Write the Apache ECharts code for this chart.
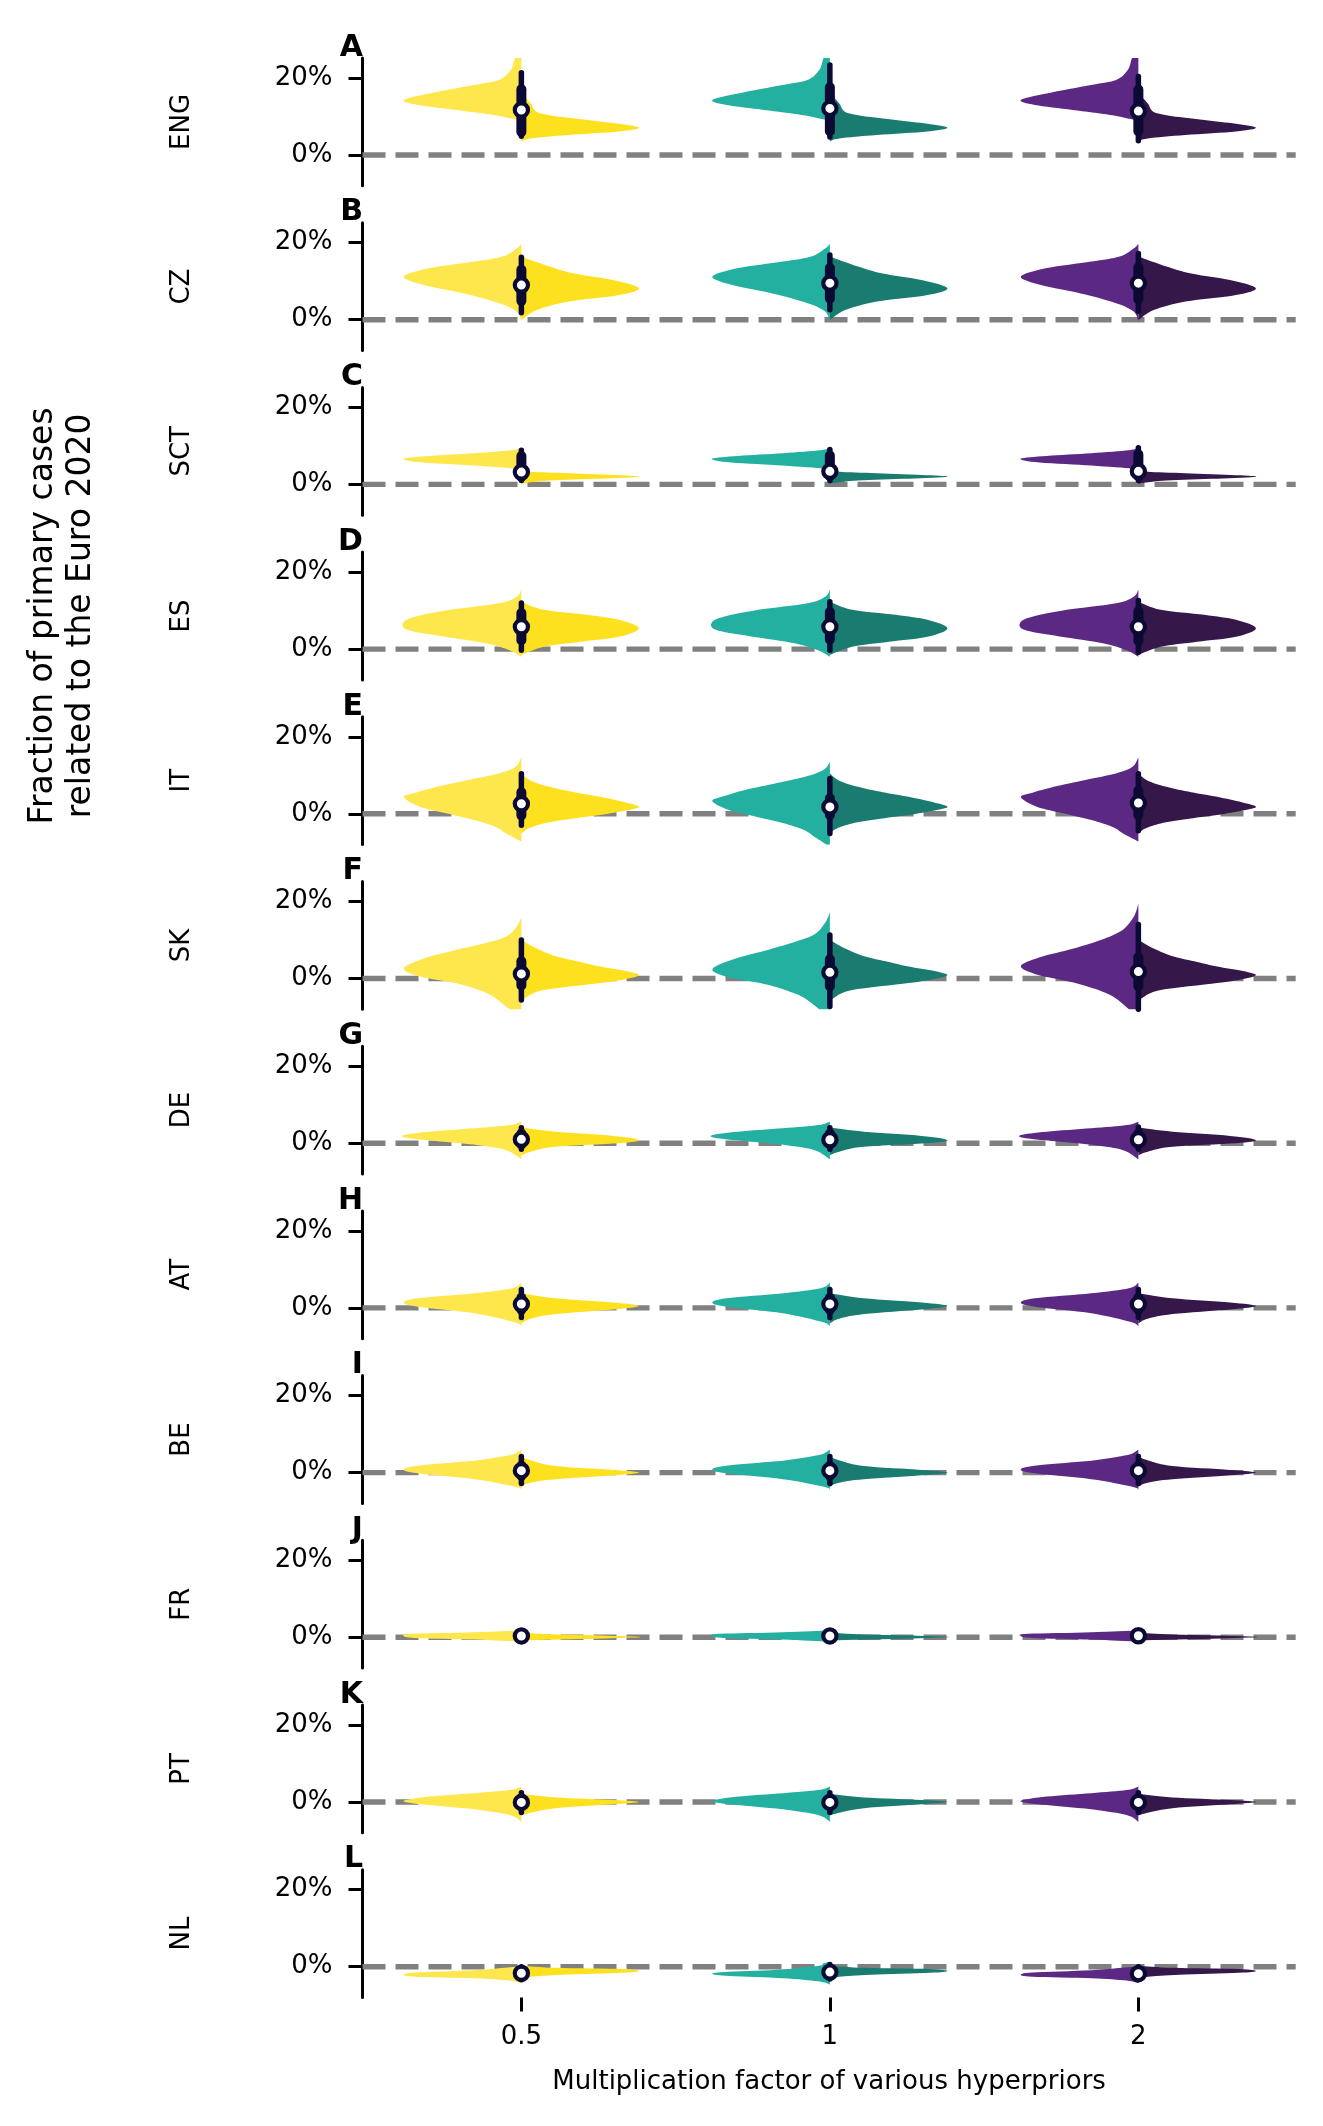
<!DOCTYPE html>
<html><head><meta charset="utf-8">
<script src="https://cdn.jsdelivr.net/npm/echarts@6/dist/echarts.min.js"></script>
<style>html,body{margin:0;padding:0;background:#fff}#c{width:1323px;height:2126px}</style>
</head><body><div id="c"></div>
<script>
// ---------------- data ----------------
const countries = ['ENG','CZ','SCT','ES','IT','SK','DE','AT','BE','FR','PT','NL'];
const panelLetters = ['A','B','C','D','E','F','G','H','I','J','K','L'];
const factorLabels = ['0.5','1','2'];
const yTickValues = [0, 20];
const xTitle = 'Multiplication factor of various hyperpriors';
const yTitleLines = ['Fraction of primary cases', 'related to the Euro 2020'];

// density profiles: [value in %, relative half-width]
const engLeft  = [[26,0],[25.4,0.05],[22.1,0.09],[19.5,0.19],[18.2,0.4],[16.0,0.78],[14.3,1],[13.0,0.88],[11.7,0.56],[10.4,0.24],[9.1,0.03],[8.8,0]];
const engRight = [[16.0,0],[13.4,0.08],[11.2,0.13],[10.1,0.29],[9.1,0.56],[8.1,0.83],[7.1,1],[6.1,0.83],[5.2,0.4],[4.3,0.08],[3.5,0]];
const czLeft   = [[19.7,0],[18.5,0.04],[16.4,0.16],[15.1,0.4],[13.4,0.78],[11.2,1],[9.0,0.83],[6.9,0.5],[4.3,0.19],[2.1,0.04],[-0.5,0]];
const czRight  = [[16.4,0],[13.8,0.24],[12.0,0.45],[10.3,0.78],[8.2,1],[6.4,0.83],[4.7,0.4],[2.5,0.13],[-0.1,0]];
const sctLeft  = [[9.6,0],[8.9,0.08],[8.1,0.4],[7.4,0.78],[6.7,1],[5.8,0.88],[5.0,0.45],[4.2,0.08],[3.8,0]];
const sctRight = [[3.9,0],[3.3,0.08],[2.9,0.4],[2.4,0.83],[2.0,1],[1.5,0.67],[1.0,0.24],[0.45,0.05],[0.1,0]];
const esLeft   = [[15.5,0],[13.6,0.04],[11.9,0.19],[10.2,0.61],[8.6,0.88],[7.1,1],[5.0,0.97],[3.3,0.67],[1.5,0.3],[-0.3,0.1],[-2.0,0]];
const esRight  = [[12.3,0],[10.2,0.19],[8.9,0.56],[7.6,0.83],[5.4,1],[3.2,0.83],[1.9,0.5],[0.6,0.19],[-1.5,0]];
const itLeft   = [[14.7,0],[12.2,0.05],[10.5,0.19],[8.8,0.45],[7.0,0.72],[5.5,0.9],[4.3,1],[1.8,0.86],[0,0.62],[-1.6,0.4],[-3.4,0.22],[-5.1,0.13],[-7.2,0]];
const itLeftTeal = [[13.5,0],[11.5,0.05],[9.8,0.19],[8.0,0.45],[6.2,0.72],[4.6,0.9],[3.3,1],[1.0,0.86],[-0.8,0.62],[-2.4,0.4],[-4.2,0.22],[-6.0,0.13],[-8.6,0]];
const itRight  = [[10.5,0],[8.6,0.08],[7.0,0.24],[5.6,0.45],[4.4,0.67],[3.0,0.88],[1.8,1],[0.8,0.88],[-0.3,0.67],[-1.4,0.4],[-2.5,0.19],[-3.8,0.06],[-5.1,0]];
const skLeft       = [[15.8,0],[13.5,0.04],[10.9,0.13],[9.1,0.32],[7.4,0.56],[5.2,0.83],[2.6,1],[0.5,0.86],[-1.2,0.56],[-3.0,0.36],[-4.7,0.24],[-8,0.1],[-10,0]];
const skLeftTeal   = [[17.2,0],[14.5,0.04],[11.5,0.13],[9.5,0.3],[7.5,0.52],[5.0,0.82],[2.4,1],[0.3,0.86],[-1.4,0.56],[-3.2,0.36],[-5.0,0.22],[-8,0.09],[-10,0]];
const skLeftPurple = [[19.4,0],[16.0,0.04],[12.5,0.14],[10.0,0.32],[7.8,0.55],[5.5,0.84],[3.2,1],[1.0,0.86],[-1.0,0.56],[-3.0,0.34],[-5.0,0.2],[-8,0.08],[-10,0]];
const skRight  = [[10.0,0],[7.8,0.13],[5.7,0.3],[4.3,0.5],[3.1,0.67],[2.0,0.88],[0.9,1],[-0.2,0.88],[-1.2,0.67],[-3.0,0.19],[-5.1,0.03],[-6.1,0]];
const deLeft   = [[5.6,0],[4.7,0.1],[3.9,0.4],[3.0,0.78],[2.1,1],[1.3,0.96],[0.4,0.67],[-0.5,0.37],[-1.8,0.13],[-4.2,0]];
const deRight  = [[4.1,0],[3.0,0.29],[1.9,0.78],[0.8,1],[0,0.83],[-0.9,0.29],[-2.2,0.08],[-3.1,0]];
const atLeft   = [[6.6,0],[5.1,0.08],[3.8,0.4],[2.5,0.88],[1.4,1],[0.3,0.88],[-1.4,0.4],[-3.6,0.07],[-4.7,0]];
const atRight  = [[3.8,0],[2.5,0.29],[1.4,0.78],[0.5,1],[-0.4,0.78],[-1.6,0.29],[-2.8,0.08],[-4.0,0]];
const beLeft   = [[6.0,0],[4.6,0.09],[3.1,0.4],[2.0,0.83],[0.9,1],[-0.2,0.88],[-1.7,0.4],[-3.7,0.05],[-4.5,0]];
const beRight  = [[4.1,0],[3.0,0.1],[1.7,0.29],[0.7,0.78],[0,1],[-0.7,0.78],[-1.7,0.29],[-2.7,0.07],[-3.7,0]];
const frLeft   = [[1.8,0],[1.3,0.4],[0.9,0.94],[0.35,1],[-0.2,0.9],[-0.6,0.4],[-1.1,0]];
const frRight  = [[1.2,0],[0.75,0.3],[0.15,1],[-0.3,0.7],[-0.8,0]];
const ptLeft   = [[4.0,0],[3.1,0.1],[2.3,0.4],[1.4,0.78],[0.35,1],[-0.5,0.88],[-1.9,0.4],[-3.4,0.1],[-5.1,0]];
const ptRight  = [[2.1,0],[1.2,0.29],[0.5,0.78],[0,1],[-0.6,0.78],[-1.6,0.29],[-3.4,0]];
const nlLeft     = [[0.1,0],[-0.9,0.4],[-1.5,0.9],[-2.1,1],[-2.6,0.9],[-3.0,0.4],[-3.6,0.1],[-4.3,0]];
const nlLeftTeal = [[1.3,0],[0.8,0.06],[0.2,0.1],[-0.8,0.45],[-1.4,0.9],[-1.9,1],[-2.4,0.85],[-3.0,0.4],[-3.8,0.1],[-4.6,0]];
const nlRight    = [[0.2,0],[-0.3,0.3],[-0.6,0.85],[-1.1,1],[-1.6,0.85],[-2.1,0.35],[-2.6,0.08],[-3.0,0]];

const leftProfiles = [
  [engLeft, engLeft, engLeft], [czLeft, czLeft, czLeft], [sctLeft, sctLeft, sctLeft],
  [esLeft, esLeft, esLeft], [itLeft, itLeftTeal, itLeft], [skLeft, skLeftTeal, skLeftPurple],
  [deLeft, deLeft, deLeft], [atLeft, atLeft, atLeft], [beLeft, beLeft, beLeft],
  [frLeft, frLeft, frLeft], [ptLeft, ptLeft, ptLeft], [nlLeft, nlLeftTeal, nlLeft]
];
const rightProfiles = [
  [engRight, engRight, engRight], [czRight, czRight, czRight], [sctRight, sctRight, sctRight],
  [esRight, esRight, esRight], [itRight, itRight, itRight], [skRight, skRight, skRight],
  [deRight, deRight, deRight], [atRight, atRight, atRight], [beRight, beRight, beRight],
  [frRight, frRight, frRight], [ptRight, ptRight, ptRight], [nlRight, nlRight, nlRight]
];

// box stats per factor: [whisker low, q1, median, q3, whisker high] (%)
const engBox = [[4.9,6.0,11.7,17.1,21.4],[4.7,6.2,12.1,17.6,23.4],[3.7,6.2,11.4,17.0,20.4]];
const czBox  = [[1.8,4.9,9.0,13.0,16.2],[2.6,5.5,9.5,13.4,16.8],[2.2,5.3,9.5,13.6,17.2]];
const sctBox = [[1.0,2.0,3.2,7.4,8.9],[1.0,2.1,3.4,7.5,9.1],[1.0,2.1,3.4,7.8,9.5]];
const esBox  = [[-0.3,2.3,5.8,9.4,12.0],[-0.3,2.5,5.8,9.6,12.3],[-0.8,2.2,5.8,9.8,12.6]];
const itBox  = [[-3.0,-0.4,2.6,5.6,10.4],[-5.1,-0.3,1.8,4.0,9.2],[-4.4,-0.3,2.8,6.0,10.4]];
const skBox  = [[-5.6,-1.8,1.2,4.5,10.0],[-7.3,-2.0,1.6,5.0,11.3],[-8.0,-2.0,1.8,5.5,14.0]];
const deBox  = [[-1.6,-0.3,1.0,2.5,4.0],[-1.6,-0.3,0.9,2.5,4.0],[-1.6,-0.3,0.9,2.5,4.2]];
const atBox  = [[-2.5,-0.5,1.0,2.6,4.8],[-2.5,-0.5,1.0,2.6,4.8],[-2.5,-0.5,1.0,2.6,4.8]];
const beBox  = [[-2.8,-0.8,0.5,1.8,4.2],[-2.8,-0.8,0.5,1.8,4.2],[-2.8,-0.8,0.5,1.8,4.2]];
const frBox  = [[-0.5,0.0,0.35,0.8,1.3],[-0.5,0.0,0.35,0.8,1.3],[-0.5,0.0,0.4,0.8,1.3]];
const ptBox  = [[-2.7,-1.0,-0.1,1.0,2.4],[-2.7,-1.0,-0.1,1.0,2.4],[-2.7,-1.0,-0.1,1.0,2.4]];
const nlBox  = [[-3.4,-2.4,-1.7,-0.9,0.0],[-3.2,-2.1,-1.4,-0.5,0.6],[-3.4,-2.4,-1.8,-0.9,0.0]];
const boxStats = [engBox, czBox, sctBox, esBox, itBox, skBox, deBox, atBox, beBox, frBox, ptBox, nlBox];

// ---------------- style / layout ----------------
const leftColors  = ['#FEE74C', '#23B0A0', '#5B2884'];
const rightColors = ['#FDE11E', '#1A7B70', '#35174A'];
const NAVY = '#0B0A35';
const FONT = 'DejaVu Sans';
const Y_MIN = -8, Y_MAX = 25.2;
const X_MIN = -0.515, X_MAX = 2.51;
const HALF = 0.381;
const GRID_LEFT = 362.5, GRID_W = 933.2, GRID_TOP0 = 58, GRID_PITCH = 164.7, GRID_H = 127.8;

function smoothProfile(prof) {
  const out = [];
  const n = prof.length;
  const steps = 8;
  for (let i = 0; i < n - 1; i++) {
    const p0 = prof[Math.max(i - 1, 0)], p1 = prof[i], p2 = prof[i + 1], p3 = prof[Math.min(i + 2, n - 1)];
    for (let s = 0; s < steps; s++) {
      const t = s / steps, t2 = t * t, t3 = t2 * t;
      const f = (a, b, c, d) => 0.5 * ((2 * b) + (-a + c) * t + (2 * a - 5 * b + 4 * c - d) * t2 + (-a + 3 * b - 3 * c + d) * t3);
      out.push([f(p0[0], p1[0], p2[0], p3[0]), Math.min(1.03, Math.max(0, f(p0[1], p1[1], p2[1], p3[1])))]);
    }
  }
  out.push(prof[n - 1]);
  return out;
}
function clipProfile(pts) {
  const res = [];
  for (let i = 0; i < pts.length; i++) {
    const p = pts[i];
    if (i > 0) {
      const q = pts[i - 1];
      [Y_MAX, Y_MIN].forEach(b => {
        if ((q[0] - b) * (p[0] - b) < 0) {
          const t = (b - q[0]) / (p[0] - q[0]);
          res.push([b, q[1] + t * (p[1] - q[1])]);
        }
      });
    }
    if (p[0] <= Y_MAX && p[0] >= Y_MIN) res.push(p);
  }
  return res;
}
const clampY = v => Math.max(Y_MIN, Math.min(Y_MAX, v));

function halfPolygon(api, fi, prof, sign, color) {
  const pts = clipProfile(smoothProfile(prof));
  if (!pts.length) return null;
  const poly = [api.coord([fi, pts[0][0]])];
  pts.forEach(p => poly.push(api.coord([fi + sign * p[1] * HALF, p[0]])));
  poly.push(api.coord([fi, pts[pts.length - 1][0]]));
  return { type: 'polygon', shape: { points: poly }, style: { fill: color, stroke: null } };
}

function makeViolinRender(pi) {
  return function (params, api) {
    const fi = api.value(0);
    const children = [];
    const l = halfPolygon(api, fi, leftProfiles[pi][fi], -1, leftColors[fi]);
    const r = halfPolygon(api, fi, rightProfiles[pi][fi], 1, rightColors[fi]);
    if (l) children.push(l);
    if (r) children.push(r);
    const b = boxStats[pi][fi];
    const wLo = api.coord([fi, clampY(b[0])]), wHi = api.coord([fi, clampY(b[4])]);
    const q1 = api.coord([fi, clampY(b[1])]), q3 = api.coord([fi, clampY(b[3])]);
    const med = api.coord([fi, b[2]]);
    children.push({ type: 'line', shape: { x1: wLo[0], y1: wLo[1], x2: wHi[0], y2: wHi[1] },
      style: { stroke: NAVY, lineWidth: 5.5, lineCap: 'round' } });
    children.push({ type: 'line', shape: { x1: q1[0], y1: q1[1], x2: q3[0], y2: q3[1] },
      style: { stroke: NAVY, lineWidth: 10, lineCap: 'round' } });
    children.push({ type: 'circle', shape: { cx: med[0], cy: med[1], r: 6.6 },
      style: { fill: '#ffffff', stroke: NAVY, lineWidth: 4.2 } });
    return { type: 'group', children: children };
  };
}
function zeroLineRender(params, api) {
  const cs = params.coordSys;
  const p = api.coord([0, api.value(1)]);
  return { type: 'line', shape: { x1: cs.x, y1: p[1], x2: cs.x + cs.width, y2: p[1] },
    style: { stroke: '#808080', lineWidth: 5.4, lineDash: [23, 10], lineCap: 'butt' } };
}

// ---------------- option ----------------
const grids = [], xAxes = [], yAxes = [], series = [], graphics = [];
countries.forEach((c, pi) => {
  const top = GRID_TOP0 + pi * GRID_PITCH;
  grids.push({ left: GRID_LEFT, top: top, width: GRID_W, height: GRID_H, containLabel: false });
  const isLast = pi === countries.length - 1;
  xAxes.push({
    type: 'value', gridIndex: pi, min: X_MIN, max: X_MAX, show: isLast,
    axisLine: { show: false, onZero: false }, splitLine: { show: false },
    axisTick: { show: isLast, customValues: [0, 1, 2], length: 14, lineStyle: { color: '#000', width: 3 } },
    axisLabel: { show: isLast, customValues: [0, 1, 2], formatter: v => factorLabels[Math.round(v)],
      fontSize: 26, color: '#000', fontFamily: FONT, margin: 27 }
  });
  yAxes.push({
    type: 'value', gridIndex: pi, min: Y_MIN, max: Y_MAX,
    axisLine: { show: true, onZero: false, lineStyle: { color: '#000', width: 3 } },
    axisTick: { show: true, customValues: yTickValues, length: 14, lineStyle: { color: '#000', width: 3 } },
    axisLabel: { customValues: yTickValues, formatter: v => v + '%', fontSize: 26, color: '#000', fontFamily: FONT, margin: 30 },
    splitLine: { show: false }
  });
  series.push({
    type: 'custom', xAxisIndex: pi, yAxisIndex: pi, z: 1, silent: true,
    renderItem: zeroLineRender, data: [[0, 0]], encode: { x: 0, y: 1 }
  });
  series.push({
    type: 'custom', xAxisIndex: pi, yAxisIndex: pi, z: 2, silent: true,
    renderItem: makeViolinRender(pi),
    data: factorLabels.map((f, fi) => [fi, boxStats[pi][fi][2]]), encode: { x: 0, y: 1 }
  });
  graphics.push({ type: 'text', x: 182, y: top + GRID_H / 2, rotation: Math.PI / 2,
    style: { text: c, fontSize: 26, fontFamily: FONT, fill: '#000', align: 'center', verticalAlign: 'middle' } });
  graphics.push({ type: 'text', x: 363, y: top + 5,
    style: { text: panelLetters[pi], fontSize: 30, fontWeight: 'bold', fontFamily: FONT, fill: '#000', align: 'right', verticalAlign: 'bottom' } });
});
graphics.push({ type: 'text', x: 43, y: 616, rotation: Math.PI / 2,
  style: { text: yTitleLines[0], fontSize: 33, fontFamily: FONT, fill: '#000', align: 'center', verticalAlign: 'middle' } });
graphics.push({ type: 'text', x: 81.5, y: 616, rotation: Math.PI / 2,
  style: { text: yTitleLines[1], fontSize: 33, fontFamily: FONT, fill: '#000', align: 'center', verticalAlign: 'middle' } });
graphics.push({ type: 'text', x: GRID_LEFT + GRID_W / 2, y: 2082,
  style: { text: xTitle, fontSize: 26, fontFamily: FONT, fill: '#000', align: 'center', verticalAlign: 'middle' } });

const chart = echarts.init(document.getElementById('c'), null, { renderer: 'canvas' });
chart.setOption({
  animation: false,
  backgroundColor: '#ffffff',
  textStyle: { fontFamily: FONT },
  grid: grids, xAxis: xAxes, yAxis: yAxes, series: series, graphic: graphics
});
</script>
</body></html>
